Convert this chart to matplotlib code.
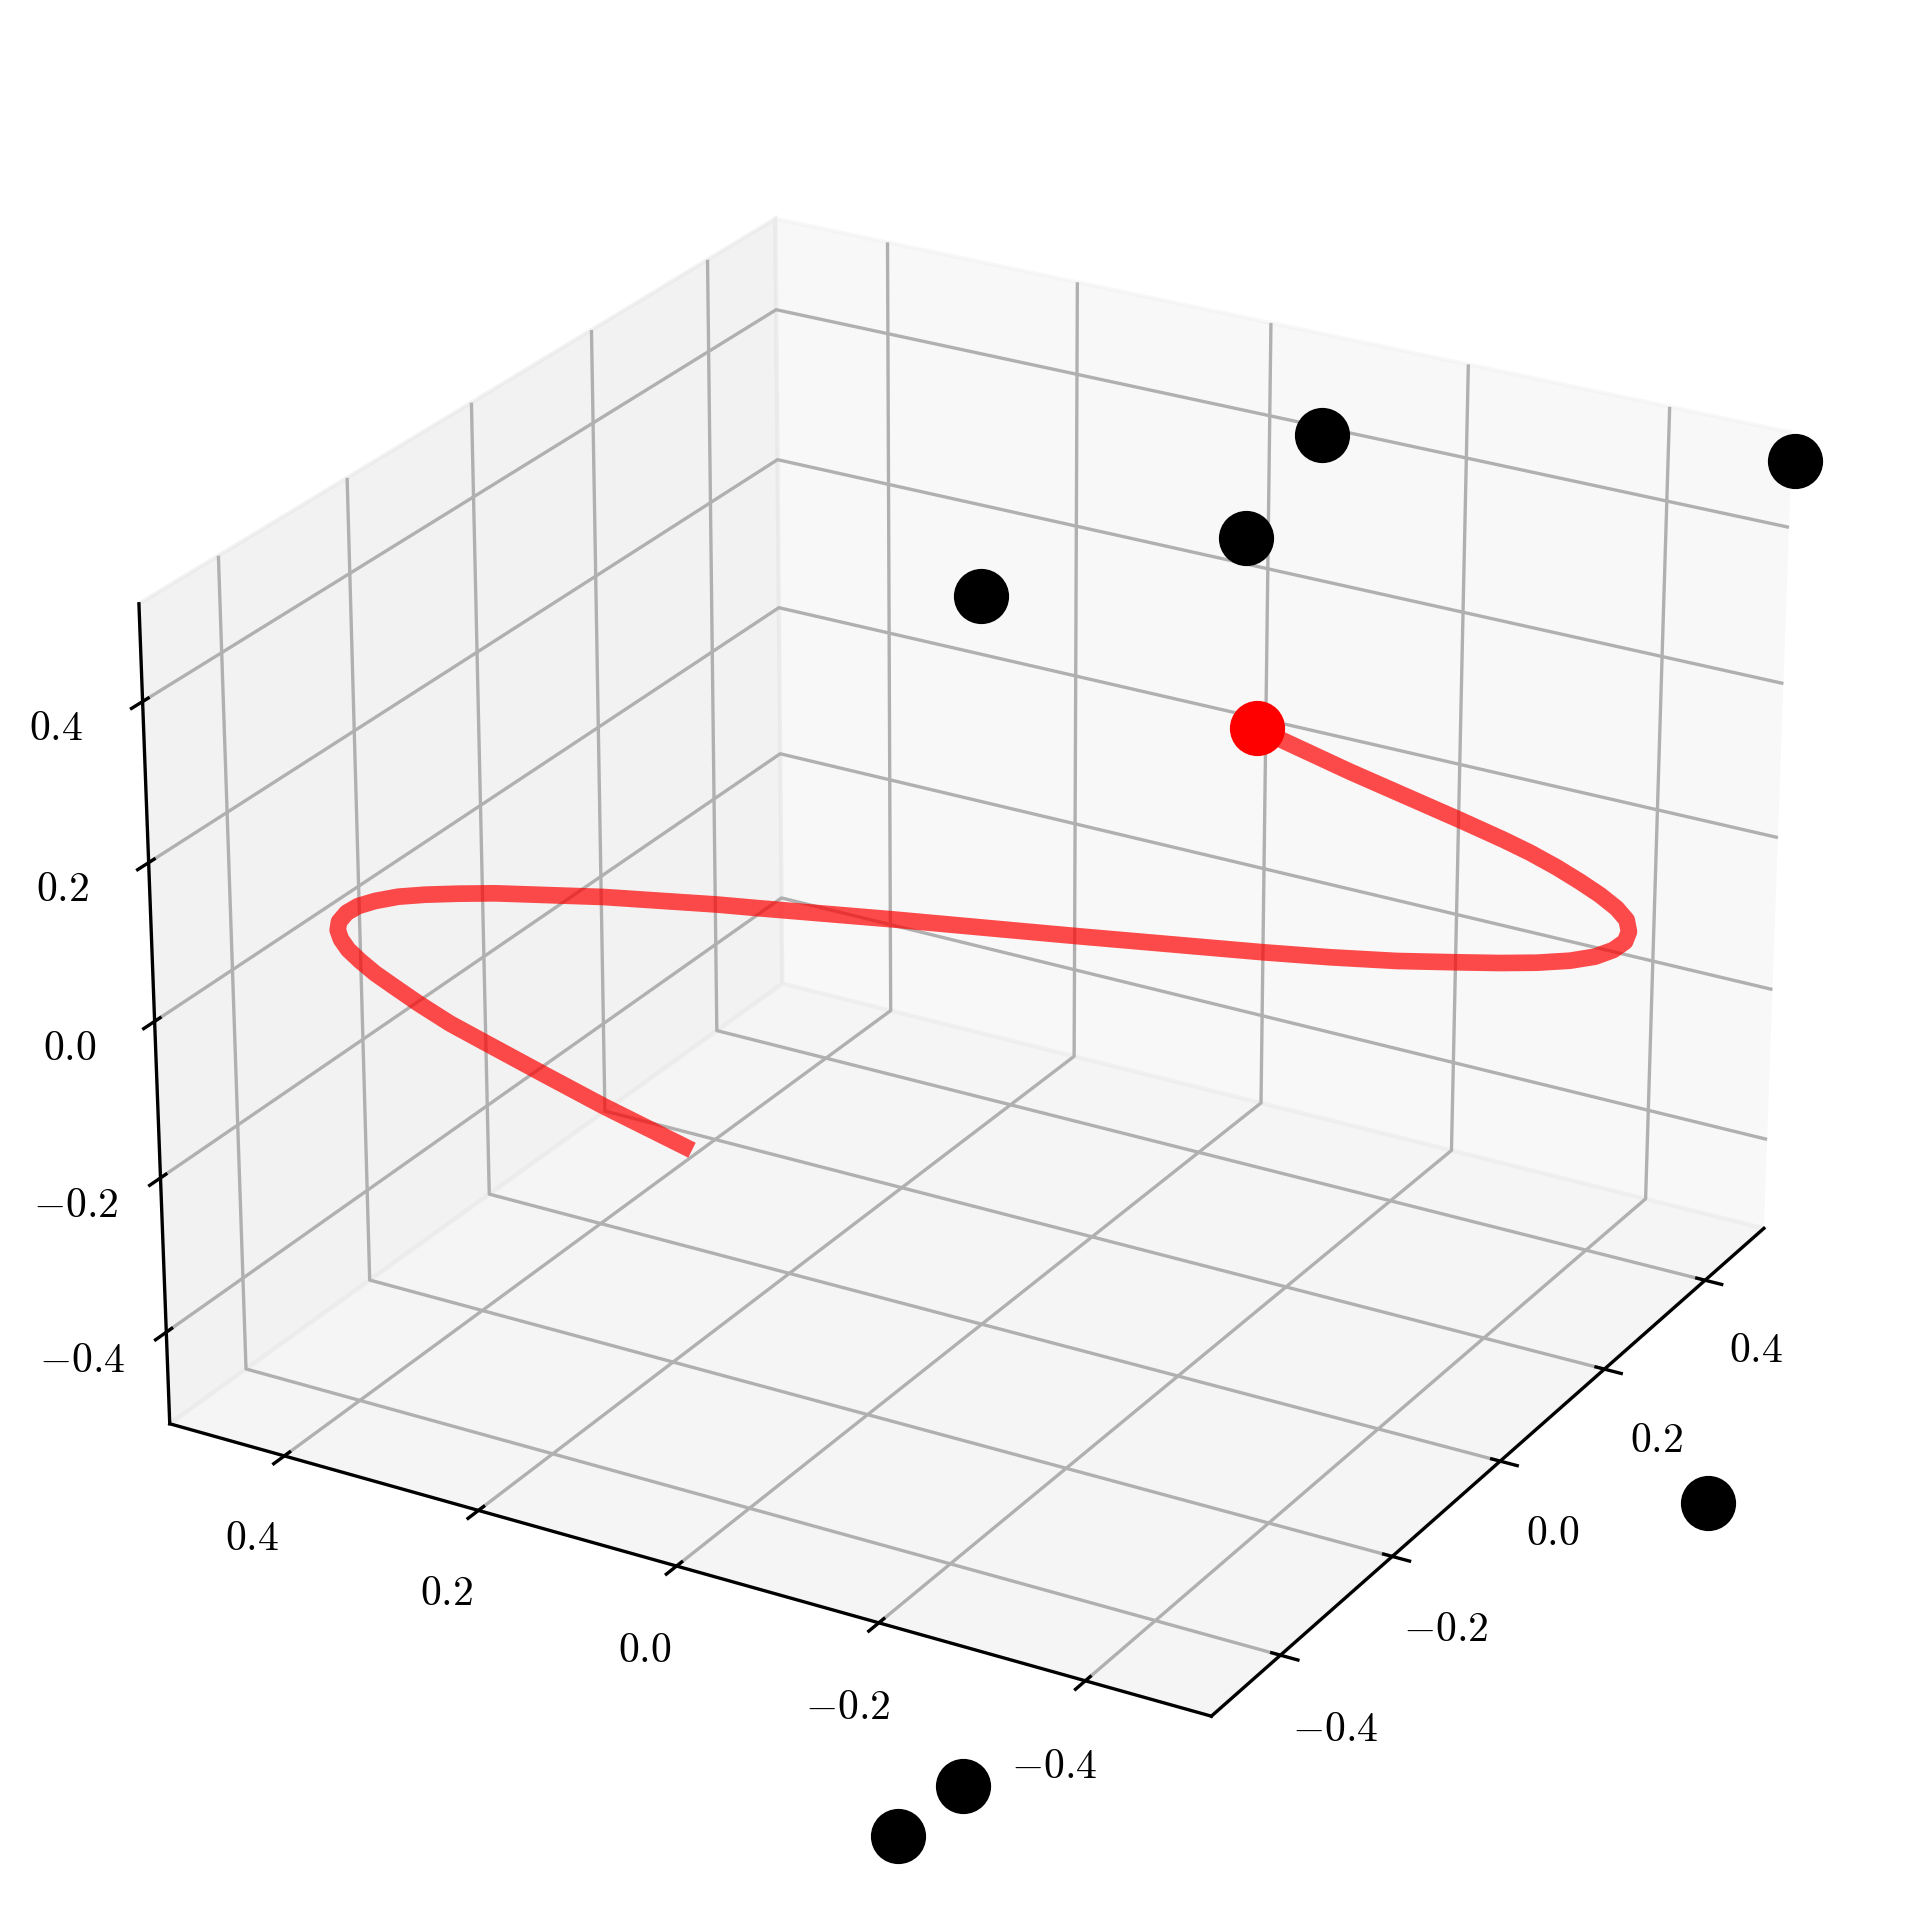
import numpy as np
import matplotlib
matplotlib.use("Agg")
import matplotlib.pyplot as plt

plt.rcParams['mathtext.fontset'] = 'cm'
plt.rcParams['font.family'] = 'serif'
plt.rcParams['font.serif'] = ['cmr10']
plt.rcParams['axes.formatter.use_mathtext'] = True

ticks = [-0.4, -0.2, 0.0, 0.2, 0.4]
tick_labels = ['$-0.4$', '$-0.2$', '$0.0$', '$0.2$', '$0.4$']

# red path
curve_x = [0.2012, 0.2245, 0.2531, 0.2643, 0.2705, 0.2762, 0.2806, 0.2839, 0.2858, 0.2855, 0.2817, 0.2759, 0.2674,
           0.2567, 0.2441, 0.2287, 0.2125, 0.1939, 0.1682, 0.1405, 0.1133, 0.0379, -0.0358, -0.0893, -0.1067,
           -0.1533, -0.1993, -0.2155, -0.2305, -0.2430, -0.2549, -0.2642, -0.2720, -0.2790, -0.2829, -0.2851,
           -0.2861, -0.2854, -0.2838, -0.2807, -0.2769, -0.2711, -0.2630, -0.2505, -0.2371, -0.2178]
curve_y = [-0.1624, -0.2433, -0.3379, -0.3759, -0.3986, -0.4221, -0.4431, -0.4613, -0.4770, -0.4872, -0.4916, -0.4909, -0.4839,
           -0.4715, -0.4535, -0.4287, -0.4010, -0.3680, -0.3222, -0.2708, -0.2191, -0.0734, 0.0698, 0.1727, 0.2064,
           0.2942, 0.3772, 0.4050, 0.4300, 0.4498, 0.4664, 0.4779, 0.4851, 0.4888, 0.4878, 0.4831,
           0.4751, 0.4636, 0.4492, 0.4307, 0.4093, 0.3805, 0.3479, 0.2979, 0.2449, 0.1740]
curve_z = [0.1996, 0.1561, 0.1077, 0.0877, 0.0750, 0.0604, 0.0460, 0.0327, 0.0194, 0.0077, -0.0040, -0.0139, -0.0222,
           -0.0289, -0.0329, -0.0349, -0.0352, -0.0345, -0.0332, -0.0295, -0.0245, -0.0083, 0.0084, 0.0194, 0.0232,
           0.0307, 0.0344, 0.0340, 0.0330, 0.0310, 0.0267, 0.0217, 0.0150, 0.0060, -0.0023, -0.0116,
           -0.0219, -0.0329, -0.0455, -0.0594, -0.0754, -0.0955, -0.1154, -0.1458, -0.1776, -0.2179]

# black points
pts_x = [0.3498, 0.2741, 0.1340, 0.5472, 0.0854, -0.3508, -0.3987]
pts_y = [-0.1443, -0.1104, 0.0778, -0.5110, -0.6803, -0.1840, -0.1467]
pts_z = [0.4949, 0.3906, 0.3322, 0.4683, -0.5709, -0.8488, -0.8977]

fig = plt.figure(figsize=(1912/300, 1907/300), dpi=300)
ax = fig.add_axes([0, 0, 1, 1], projection='3d', computed_zorder=False)
ax.view_init(elev=25, azim=-150)
ax.set_xlim(-0.52, 0.52)
ax.set_ylim(-0.52, 0.52)
ax.set_zlim(-0.52, 0.52)
ax.set_box_aspect((4, 4, 3), zoom=0.968)
ax.set_xticks(ticks)
ax.set_yticks(ticks)
ax.set_zticks(ticks)
ax.set_xticklabels(tick_labels)
ax.set_yticklabels(tick_labels)
ax.set_zticklabels(tick_labels)
ax.tick_params(axis='both', pad=4)
ax.tick_params(axis='z', pad=4)

ax.plot(curve_x, curve_y, curve_z, color='red', alpha=0.7, lw=4, zorder=2)
ax.scatter(curve_x[0], curve_y[0], curve_z[0], color='red', s=150, depthshade=False, zorder=3)
ax.scatter(pts_x, pts_y, pts_z, color='black', s=150, depthshade=False, zorder=3)
fig.savefig('out.png', dpi=300)
